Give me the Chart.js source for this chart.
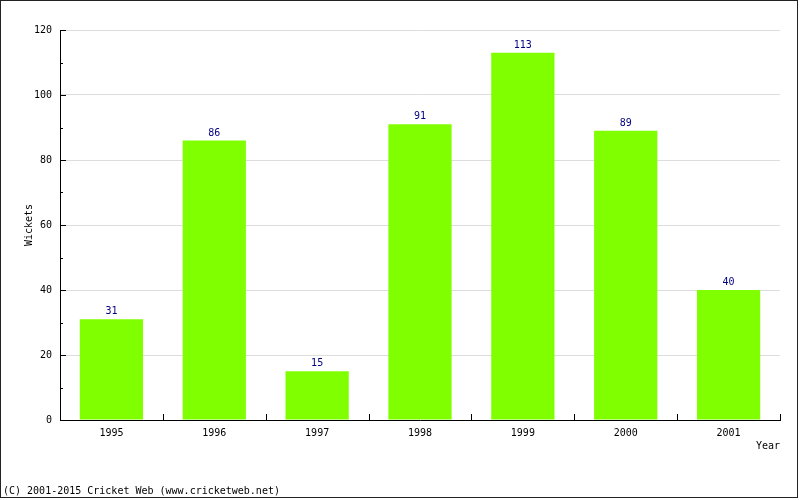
<!DOCTYPE html>
<html>
<head>
<meta charset="utf-8">
<script src="https://cdn.jsdelivr.net/npm/chart.js@4/dist/chart.umd.min.js"></script>
<style>
html,body{margin:0;padding:0;background:#fff;}
#wrap{width:800px;height:500px;position:relative;}
</style>
</head>
<body>
<div id="wrap"><canvas id="c" width="800" height="500"></canvas></div>
<script>
const years = ['1995','1996','1997','1998','1999','2000','2001'];
const wickets = [31, 86, 15, 91, 113, 89, 40];
const yTicks = [0, 20, 40, 60, 80, 100, 120];
const yMinorTicks = [10, 30, 50, 70, 90, 110];
const footerText = '(C) 2001-2015 Cricket Web (www.cricketweb.net)';

const FONT = 'DejaVu Sans Mono';

const decor = {
  id: 'decor',
  beforeDraw(chart) {
    const ctx = chart.ctx;
    ctx.save();
    ctx.fillStyle = '#fff';
    ctx.fillRect(0, 0, chart.width, chart.height);
    ctx.restore();
  },
  afterDraw(chart) {
    const ctx = chart.ctx;
    const x = chart.scales.x, y = chart.scales.y;
    const ca = chart.chartArea;
    ctx.save();
    ctx.strokeStyle = '#000';
    ctx.lineWidth = 1;
    // y major ticks (inward)
    ctx.beginPath();
    yTicks.forEach(v => {
      const py = Math.round(y.getPixelForValue(v)) + 0.5;
      ctx.moveTo(ca.left, py); ctx.lineTo(ca.left + 6, py);
    });
    yMinorTicks.forEach(v => {
      const py = Math.round(y.getPixelForValue(v)) + 0.5;
      ctx.moveTo(ca.left, py); ctx.lineTo(ca.left + 3, py);
    });
    // x ticks at category boundaries (upward)
    const half = (x.getPixelForValue(1) - x.getPixelForValue(0)) / 2;
    for (let i = 0; i < years.length; i++) {
      const px = Math.round(x.getPixelForValue(i) + half) + 0.5;
      ctx.moveTo(px, ca.bottom); ctx.lineTo(px, ca.bottom - 6);
    }
    ctx.stroke();
    // value labels
    ctx.fillStyle = '#000080';
    ctx.font = '10px "' + FONT + '"';
    ctx.textAlign = 'center';
    ctx.textBaseline = 'alphabetic';
    const meta = chart.getDatasetMeta(0);
    meta.data.forEach((bar, i) => {
      ctx.fillText(String(wickets[i]), bar.x, bar.y - 5);
    });
    // footer
    ctx.fillStyle = '#000';
    ctx.textAlign = 'left';
    ctx.textBaseline = 'middle';
    ctx.fillText(footerText, 3, 491);
    // border
    ctx.strokeStyle = '#222';
    ctx.strokeRect(0.5, 0.5, 797, 497);
    ctx.restore();
  }
};

new Chart(document.getElementById('c'), {
  type: 'bar',
  data: {
    labels: years,
    datasets: [{
      data: wickets,
      backgroundColor: '#80ff00',
      borderWidth: 0,
      barPercentage: 0.615,
      categoryPercentage: 1.0
    }]
  },
  options: {
    responsive: false,
    animation: false,
    devicePixelRatio: 1,
    layout: { padding: { left: 0, top: 30, right: 20, bottom: 40 } },
    plugins: { legend: { display: false }, tooltip: { enabled: false } },
    scales: {
      x: {
        grid: { display: false, drawTicks: false },
        border: { display: true, color: '#000', width: 1 },
        ticks: { color: '#000', font: { family: FONT, size: 10 }, padding: 7, maxRotation: 0 },
        title: { display: true, text: 'Year', align: 'end', color: '#000',
                 font: { family: FONT, size: 10 }, padding: { top: 0, bottom: 8 } },
        afterFit(s) { s.height = 40; }
      },
      y: {
        min: 0, max: 120,
        afterBuildTicks(s) { s.ticks = yTicks.map(v => ({ value: v })); },
        grid: { color: '#dddddd', lineWidth: 1, drawTicks: false },
        border: { display: true, color: '#000', width: 1 },
        ticks: { color: '#000', font: { family: FONT, size: 10 }, padding: 8 },
        title: { display: true, text: 'Wickets', color: '#000',
                 font: { family: FONT, size: 10 }, padding: { top: 23, bottom: 0 } },
        afterFit(s) { s.width = 60; }
      }
    }
  },
  plugins: [decor]
});
</script>
</body>
</html>
